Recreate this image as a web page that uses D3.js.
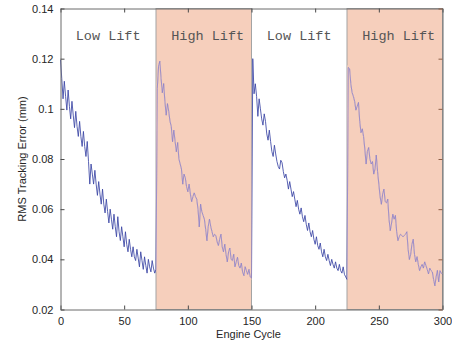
<!DOCTYPE html>
<html>
<head>
<meta charset="utf-8">
<script src="https://cdn.jsdelivr.net/npm/d3@7"></script>
<style>
  html, body { margin: 0; padding: 0; background: #fff; }
  svg { display: block; }
</style>
</head>
<body>
<svg id="chart" width="452" height="345"></svg>
<script>
// RMS tracking error per engine cycle, one array per valve-lift phase
const lowLift1 = [
  0.1195, 0.1120, 0.1040, 0.1110, 0.1050, 0.0995, 0.1075, 0.1010, 0.0960,
  0.1030, 0.0975, 0.0925, 0.0990, 0.0930, 0.0890, 0.0950, 0.0890, 0.0850,
  0.0910, 0.0850, 0.0810, 0.0870, 0.0790, 0.0700, 0.0780, 0.0740, 0.0700,
  0.0755, 0.0700, 0.0655, 0.0710, 0.0660, 0.0620, 0.0680, 0.0620, 0.0585,
  0.0640, 0.0590, 0.0545, 0.0600, 0.0560, 0.0520, 0.0580, 0.0530, 0.0490,
  0.0570, 0.0510, 0.0475, 0.0530, 0.0490, 0.0450, 0.0510, 0.0460, 0.0430,
  0.0480, 0.0440, 0.0410, 0.0450, 0.0410, 0.0395, 0.0440, 0.0405, 0.0370,
  0.0430, 0.0395, 0.0360, 0.0410, 0.0375, 0.0345, 0.0400, 0.0370, 0.0350,
  0.0395, 0.0365, 0.0345, 0.0360
];
const highLift1 = [
  0.1080, 0.1170, 0.1190, 0.1120, 0.1065, 0.1100, 0.1030, 0.0975, 0.1020, 0.0990,
  0.0950, 0.0930, 0.0870, 0.0915, 0.0870, 0.0830, 0.0865, 0.0800, 0.0780, 0.0760,
  0.0700, 0.0740, 0.0725, 0.0690, 0.0670, 0.0700, 0.0660, 0.0630, 0.0650, 0.0665,
  0.0650, 0.0640, 0.0600, 0.0530, 0.0620, 0.0590, 0.0575, 0.0560, 0.0520, 0.0475,
  0.0530, 0.0560, 0.0530, 0.0510, 0.0490, 0.0500, 0.0495, 0.0470, 0.0455, 0.0480,
  0.0500, 0.0450, 0.0430, 0.0460, 0.0420, 0.0390, 0.0430, 0.0445, 0.0400, 0.0395,
  0.0420, 0.0370, 0.0390, 0.0408, 0.0375, 0.0365, 0.0385, 0.0350, 0.0335, 0.0370,
  0.0355, 0.0340, 0.0360, 0.0330, 0.0325
];
const lowLift2 = [
  0.1200, 0.1060, 0.1100, 0.1050, 0.0970, 0.1040, 0.1000, 0.0960, 0.0935, 0.0980,
  0.0950, 0.0900, 0.0875, 0.0915, 0.0870, 0.0830, 0.0810, 0.0855, 0.0820, 0.0790,
  0.0770, 0.0760, 0.0795, 0.0785, 0.0750, 0.0725, 0.0740, 0.0715, 0.0680, 0.0710,
  0.0680, 0.0650, 0.0670, 0.0640, 0.0610, 0.0635, 0.0600, 0.0580, 0.0605, 0.0570,
  0.0550, 0.0575, 0.0540, 0.0515, 0.0545, 0.0510, 0.0490, 0.0515, 0.0480, 0.0460,
  0.0490, 0.0455, 0.0440, 0.0465, 0.0430, 0.0410, 0.0440, 0.0410, 0.0395, 0.0420,
  0.0395, 0.0375, 0.0400, 0.0380, 0.0365, 0.0390, 0.0365, 0.0355, 0.0380, 0.0355,
  0.0345, 0.0370, 0.0340, 0.0330, 0.0320
];
const highLift2 = [
  0.1165, 0.1160, 0.1100, 0.1065, 0.1050, 0.1030, 0.0995, 0.1010, 0.1025, 0.0950,
  0.0905, 0.0920, 0.0890, 0.0840, 0.0780, 0.0830, 0.0845, 0.0800, 0.0780, 0.0790,
  0.0740, 0.0760, 0.0815, 0.0750, 0.0700, 0.0650, 0.0620, 0.0660, 0.0680, 0.0630,
  0.0625, 0.0640, 0.0560, 0.0515, 0.0545, 0.0580, 0.0560, 0.0575, 0.0510, 0.0475,
  0.0490, 0.0500, 0.0495, 0.0490, 0.0495, 0.0500, 0.0510, 0.0440, 0.0400, 0.0420,
  0.0460, 0.0480, 0.0420, 0.0390, 0.0410, 0.0380, 0.0355, 0.0370, 0.0380, 0.0365,
  0.0390, 0.0375, 0.0360, 0.0342, 0.0365, 0.0355, 0.0350, 0.0320, 0.0295, 0.0330,
  0.0355, 0.0310, 0.0355, 0.0345, 0.0340
];

// Phase layout: first cycle of each array, label, and shaded (high lift) flag
const phaseSeries = [lowLift1, highLift1, lowLift2, highLift2];
const phaseFirstCycle = [0, 76, 151, 226];
const phaseLabels = ["Low Lift", "High Lift", "Low Lift", "High Lift"];
const phaseStart = [0, 75, 150, 225];
const phaseEnd = [75, 150, 225, 300];
const phaseShaded = [false, true, false, true];

const cycleTicks = [0, 50, 100, 150, 200, 250, 300];
const errorTicks = [0.02, 0.04, 0.06, 0.08, 0.10, 0.12, 0.14];
const errorTickLabels = ["0.02", "0.04", "0.06", "0.08", "0.1", "0.12", "0.14"];

const svg = d3.select("#chart");
const x = d3.scaleLinear().domain([0, 300]).range([60.5, 442.5]);
const y = d3.scaleLinear().domain([0.02, 0.14]).range([309.5, 8.5]);

// Flatten phases into (cycle, error) points
const points = [];
phaseSeries.forEach((arr, p) => {
  arr.forEach((v, i) => points.push({ cycle: phaseFirstCycle[p] + i, err: v }));
});

const bands = phaseStart.map((s, i) => ({ from: s, to: phaseEnd[i], shaded: phaseShaded[i], label: phaseLabels[i] }));
const shadedBands = bands.filter(b => b.shaded);

// High-lift shading
svg.append("g").selectAll("rect").data(shadedBands).join("rect")
  .attr("x", d => x(d.from))
  .attr("y", y(0.14))
  .attr("width", d => x(d.to) - x(d.from))
  .attr("height", y(0.02) - y(0.14))
  .attr("fill", "#f6cfbc")
  .attr("stroke", "#a4a4a4")
  .attr("stroke-width", 1);

// Clip region covering the shaded bands
const defs = svg.append("defs");
const clip = defs.append("clipPath").attr("id", "bandClip");
clip.selectAll("rect").data(shadedBands).join("rect")
  .attr("x", d => x(d.from))
  .attr("y", 0)
  .attr("width", d => x(d.to) - x(d.from))
  .attr("height", 345);

const line = d3.line().x(d => x(d.cycle)).y(d => y(d.err));

svg.append("path").datum(points)
  .attr("d", line)
  .attr("fill", "none")
  .attr("stroke", "#3a44a4")
  .attr("stroke-width", 0.85)
  .attr("stroke-linejoin", "round");

// Lighter trace inside the shaded bands
svg.append("path").datum(points)
  .attr("clip-path", "url(#bandClip)")
  .attr("d", line)
  .attr("fill", "none")
  .attr("stroke", "#f6cfbc")
  .attr("stroke-width", 2);
svg.append("path").datum(points)
  .attr("clip-path", "url(#bandClip)")
  .attr("d", line)
  .attr("fill", "none")
  .attr("stroke", "#8c82ca")
  .attr("stroke-width", 0.85)
  .attr("stroke-linejoin", "round");

// Axes (ticks pointing inward, box on)
const tickFont = "Liberation Sans, Arial, sans-serif";
const gx = svg.append("g").attr("transform", `translate(0,${y(0.02)})`)
  .call(d3.axisBottom(x).tickValues(cycleTicks).tickSizeInner(-4).tickSizeOuter(0).tickPadding(8).tickFormat(d3.format("d")));
const gxTop = svg.append("g").attr("transform", `translate(0,${y(0.14)})`)
  .call(d3.axisTop(x).tickValues(cycleTicks).tickSizeInner(-4).tickSizeOuter(0).tickFormat(""));
const gy = svg.append("g").attr("transform", `translate(${x(0)},0)`)
  .call(d3.axisLeft(y).tickValues(errorTicks).tickSizeInner(-4).tickSizeOuter(0).tickPadding(7)
    .tickFormat((d, i) => errorTickLabels[i]));
const gyRight = svg.append("g").attr("transform", `translate(${x(300)},0)`)
  .call(d3.axisRight(y).tickValues(errorTicks).tickSizeInner(-4).tickSizeOuter(0).tickFormat(""));

[gx, gxTop, gy, gyRight].forEach(g => {
  g.select(".domain").attr("stroke", "#6a6a6a").attr("stroke-width", 1);
  g.selectAll(".tick line").attr("stroke", "#4a4a4a");
  g.selectAll("text").attr("fill", "#262626").style("font-family", tickFont).style("font-size", "11px");
});
gyRight.selectAll(".tick line").attr("stroke", "#8e5e46");

// Phase labels
svg.append("g").selectAll("text").data(bands).join("text")
  .attr("x", d => x(d.from + 12))
  .attr("y", y(0.128) + 1)
  .attr("text-anchor", "start")
  .attr("fill", "#555555")
  .style("font-family", "Liberation Mono, Courier New, monospace")
  .style("font-size", "13.5px")
  .text(d => d.label);

// Axis titles
svg.append("text")
  .attr("x", (x(0) + x(300)) / 2 - 3)
  .attr("y", 338)
  .attr("text-anchor", "middle")
  .attr("fill", "#262626")
  .style("font-family", tickFont)
  .style("font-size", "11px")
  .text("Engine Cycle");

svg.append("text")
  .attr("transform", `translate(26,${(y(0.02) + y(0.14)) / 2}) rotate(-90)`)
  .attr("text-anchor", "middle")
  .attr("fill", "#262626")
  .style("font-family", tickFont)
  .style("font-size", "11px")
  .text("RMS Tracking Error (mm)");
</script>
</body>
</html>
